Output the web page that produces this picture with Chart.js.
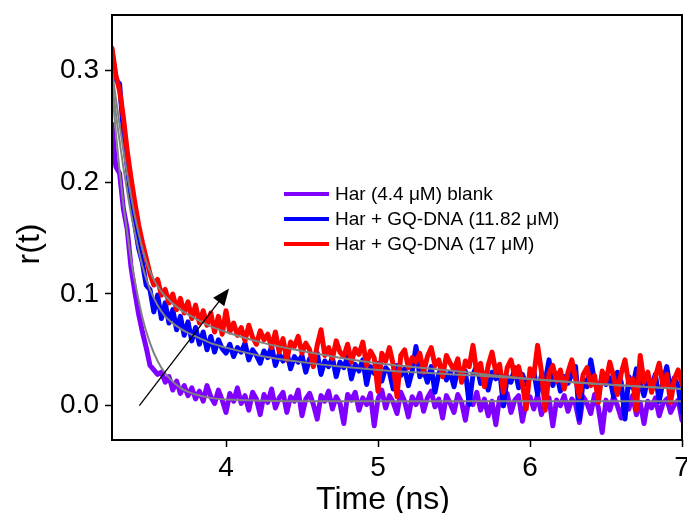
<!DOCTYPE html>
<html>
<head>
<meta charset="utf-8">
<script src="https://cdn.jsdelivr.net/npm/chart.js@4.4.1/dist/chart.umd.min.js"></script>
<style>
  html, body { margin: 0; padding: 0; background: #fff; }
  canvas { display: block; }
</style>
</head>
<body>
<canvas id="canvas-rt" width="687" height="513"></canvas>
<script>
// time axis (ns), one sample every 0.025 ns
const times = [
  3.25, 3.275, 3.3, 3.325, 3.35, 3.375, 3.4, 3.425, 3.45, 3.475,
  3.5, 3.525, 3.55, 3.575, 3.6, 3.625, 3.65, 3.675, 3.7, 3.725,
  3.75, 3.775, 3.8, 3.825, 3.85, 3.875, 3.9, 3.925, 3.95, 3.975,
  4.0, 4.025, 4.05, 4.075, 4.1, 4.125, 4.15, 4.175, 4.2, 4.225,
  4.25, 4.275, 4.3, 4.325, 4.35, 4.375, 4.4, 4.425, 4.45, 4.475,
  4.5, 4.525, 4.55, 4.575, 4.6, 4.625, 4.65, 4.675, 4.7, 4.725,
  4.75, 4.775, 4.8, 4.825, 4.85, 4.875, 4.9, 4.925, 4.95, 4.975,
  5.0, 5.025, 5.05, 5.075, 5.1, 5.125, 5.15, 5.175, 5.2, 5.225,
  5.25, 5.275, 5.3, 5.325, 5.35, 5.375, 5.4, 5.425, 5.45, 5.475,
  5.5, 5.525, 5.55, 5.575, 5.6, 5.625, 5.65, 5.675, 5.7, 5.725,
  5.75, 5.775, 5.8, 5.825, 5.85, 5.875, 5.9, 5.925, 5.95, 5.975,
  6.0, 6.025, 6.05, 6.075, 6.1, 6.125, 6.15, 6.175, 6.2, 6.225,
  6.25, 6.275, 6.3, 6.325, 6.35, 6.375, 6.4, 6.425, 6.45, 6.475,
  6.5, 6.525, 6.55, 6.575, 6.6, 6.625, 6.65, 6.675, 6.7, 6.725,
  6.75, 6.775, 6.8, 6.825, 6.85, 6.875, 6.9, 6.925, 6.95, 6.975,
  7.0
];

// Har (4.4 uM) blank
const blank = [
  0.252, 0.214, 0.208, 0.176, 0.158, 0.124, 0.102, 0.082, 0.066, 0.052,
  0.036, 0.032, 0.028, 0.030, 0.021, 0.026, 0.014, 0.022, 0.011, 0.018,
  0.009, 0.016, 0.006, 0.013, 0.004, 0.018, 0.008, 0.002, 0.014, 0.005,
  -0.006, 0.011, 0.004, 0.016, 0.002, 0.009, -0.004, 0.012, 0.006, -0.008,
  0.010, 0.003, 0.015, -0.002, 0.007, 0.012, -0.006, 0.008, 0.004, 0.014,
  -0.009, 0.006, 0.011, 0.001, -0.012, 0.009, 0.004, 0.013, -0.003, 0.008,
  0.002, -0.016, 0.010, 0.005, 0.012, -0.004, 0.007, 0.001, 0.011, -0.018,
  0.006, 0.014, -0.002, 0.009, 0.003, -0.007, 0.012, 0.004, -0.010, 0.008,
  0.001, 0.011, -0.005, 0.007, 0.013, -0.001, 0.006, -0.011, 0.009, 0.002,
  -0.006, 0.010, 0.003, -0.013, 0.008, 0.001, 0.012, -0.004, 0.006, -0.009,
  0.004, -0.017, 0.007, 0.000, 0.011, -0.006, 0.005, 0.009, -0.014, 0.003,
  0.008, -0.003, 0.010, -0.008, 0.002, 0.007, -0.018, 0.005, 0.000, 0.009,
  -0.005, 0.006, 0.001, -0.015, 0.008, 0.002, -0.007, 0.010, -0.002, -0.024,
  0.005, -0.004, 0.008, 0.000, -0.011, 0.006, -0.003, 0.009, -0.008, 0.003,
  -0.016, 0.004, -0.002, 0.007, -0.009, 0.002, 0.006, -0.006, 0.001, 0.005,
  -0.013
];

// Har + GQ-DNA (11.82 uM)
const dna1182 = [
  0.318, 0.292, 0.288, 0.245, 0.214, 0.186, 0.162, 0.141, 0.128, 0.108,
  0.104, 0.084, 0.099, 0.078, 0.092, 0.074, 0.086, 0.068, 0.080, 0.063,
  0.075, 0.058, 0.070, 0.055, 0.066, 0.050, 0.062, 0.048, 0.059, 0.051,
  0.047, 0.055, 0.044, 0.052, 0.048, 0.056, 0.041, 0.050, 0.045, 0.038,
  0.049, 0.043, 0.053, 0.036, 0.046, 0.040, 0.048, 0.033, 0.044, 0.039,
  0.045, 0.030, 0.042, 0.037, 0.047, 0.028, 0.040, 0.035, 0.043, 0.026,
  0.039, 0.034, 0.044, 0.024, 0.037, 0.031, 0.041, 0.019, 0.035, 0.029,
  0.038, 0.022, 0.034, 0.030, 0.015, 0.036, 0.027, 0.033, 0.018, 0.031,
  0.053, 0.026, 0.032, 0.021, 0.035, 0.012, 0.029, 0.034, 0.023, 0.030,
  0.017, 0.033, 0.025, 0.031, 0.001, 0.028, 0.036, 0.020, 0.027, 0.014,
  0.030, 0.024, 0.032, 0.000, 0.026, 0.021, 0.034, 0.016, 0.028, 0.019,
  0.025, 0.031, 0.010, 0.027, 0.022, 0.041, 0.018, 0.029, 0.013, 0.026,
  0.020, 0.028, 0.035, -0.012, 0.024, 0.017, 0.041, 0.022, 0.011, 0.027,
  0.019, 0.025, 0.008, 0.030, 0.021, -0.012, 0.026, 0.016, 0.033, 0.020,
  0.009, 0.024, 0.018, 0.028, 0.004, 0.022, 0.035, 0.013, 0.025, 0.017,
  -0.006
];

// Har + GQ-DNA (17 uM)
const dna17 = [
  0.320, 0.296, 0.282, 0.258, 0.228, 0.204, 0.182, 0.162, 0.146, 0.132,
  0.118, 0.108, 0.113, 0.099, 0.104, 0.092, 0.100, 0.086, 0.096, 0.083,
  0.093, 0.078, 0.090, 0.074, 0.085, 0.072, 0.083, 0.066, 0.080, 0.064,
  0.085, 0.066, 0.074, 0.063, 0.070, 0.058, 0.072, 0.061, 0.055, 0.067,
  0.059, 0.064, 0.052, 0.066, 0.048, 0.060, 0.041, 0.057, 0.053, 0.062,
  0.047, 0.056, 0.050, 0.035, 0.054, 0.068, 0.045, 0.052, 0.042, 0.058,
  0.048, 0.044, 0.055, 0.039, 0.051, 0.046, 0.057, 0.036, 0.049, 0.043,
  0.013, 0.047, 0.040, 0.052, 0.037, 0.008, 0.045, 0.050, 0.034, 0.043,
  0.039, 0.047, 0.030, 0.044, 0.052, 0.036, 0.041, 0.026, 0.045, 0.038,
  0.032, 0.042, 0.021, 0.040, 0.035, 0.054, 0.029, 0.038, 0.017, 0.036,
  0.048, 0.030, 0.037, 0.012, 0.034, 0.041, 0.026, 0.035, 0.020, -0.003,
  0.033, 0.027, 0.054, 0.031, -0.004, 0.029, 0.036, 0.022, 0.032, 0.015,
  0.030, 0.041, 0.024, 0.008, 0.028, 0.034, 0.018, 0.027, 0.003, 0.031,
  0.022, 0.039, 0.026, 0.010, 0.029, 0.041, 0.019, 0.024, -0.004, 0.045,
  0.021, 0.030, 0.012, 0.026, 0.038, 0.017, 0.028, 0.003, 0.024, 0.032,
  0.019
];

// fitted decays (grey)
const fitTimes = [3.25, 3.275, 3.3, 3.325, 3.35, 3.375, 3.4, 3.45, 3.5, 3.55, 3.6, 3.7, 3.8, 3.9, 4.0, 4.25, 4.5, 4.75, 5.0, 5.5, 6.0, 6.5, 7.0];
const fitBlank   = [0.285, 0.245, 0.210, 0.180, 0.155, 0.131, 0.112, 0.079, 0.056, 0.040, 0.029, 0.016, 0.010, 0.007, 0.0055, 0.0045, 0.004, 0.004, 0.004, 0.004, 0.004, 0.004, 0.004];
const fit1182    = [0.290, 0.262, 0.237, 0.213, 0.192, 0.172, 0.155, 0.125, 0.104, 0.090, 0.080, 0.069, 0.062, 0.056, 0.052, 0.044, 0.039, 0.035, 0.032, 0.028, 0.024, 0.019, 0.015];
const fit17      = [0.300, 0.275, 0.252, 0.229, 0.207, 0.188, 0.170, 0.141, 0.120, 0.107, 0.098, 0.086, 0.078, 0.071, 0.066, 0.056, 0.049, 0.043, 0.038, 0.031, 0.024, 0.019, 0.015];

const legendLabels = ['Har (4.4 \u03bcM) blank', 'Har + GQ-DNA (11.82 \u03bcM)', 'Har + GQ-DNA (17 \u03bcM)'];
const seriesColors = ['#8000ff', '#0000ff', '#ff0000'];
const xTicks = [4, 5, 6, 7];
const yTicks = [0.0, 0.1, 0.2, 0.3];
const arrowFrom = [3.43, 0.0];
const arrowTo = [4.02, 0.105];

const FONT = '"Liberation Sans", Arial, Helvetica, sans-serif';

const pts = (xs, ys) => xs.map((x, i) => ({x: x, y: ys[i]}));

const dataLine = (label, ys, color, order) => ({
  label: label,
  data: pts(times, ys),
  borderColor: color,
  backgroundColor: color,
  borderWidth: 5,
  borderJoinStyle: 'round',
  borderCapStyle: 'round',
  pointRadius: 0,
  tension: 0,
  order: order
});

const fitLine = (ys) => ({
  label: 'fit',
  data: pts(fitTimes, ys),
  borderColor: '#808080',
  borderWidth: 2,
  pointRadius: 0,
  cubicInterpolationMode: 'monotone',
  order: 0
});

// box round the plot, arrow, legend and axis titles
const extras = {
  id: 'extras',
  afterDatasetsDraw(chart) {
    const ctx = chart.ctx;
    const a = chart.chartArea;
    const sx = chart.scales.x, sy = chart.scales.y;
    ctx.save();

    // arrow
    const x1 = sx.getPixelForValue(arrowFrom[0]), y1 = sy.getPixelForValue(arrowFrom[1]);
    const x2 = sx.getPixelForValue(arrowTo[0]), y2 = sy.getPixelForValue(arrowTo[1]);
    const ang = Math.atan2(y2 - y1, x2 - x1);
    const hl = 17, hw = 7;
    const bx = x2 - hl * Math.cos(ang), by = y2 - hl * Math.sin(ang);
    ctx.strokeStyle = '#000';
    ctx.lineWidth = 1.3;
    ctx.beginPath(); ctx.moveTo(x1, y1); ctx.lineTo(bx, by); ctx.stroke();
    ctx.fillStyle = '#000';
    ctx.beginPath();
    ctx.moveTo(x2, y2);
    ctx.lineTo(bx + hw * Math.sin(ang), by - hw * Math.cos(ang));
    ctx.lineTo(bx - hw * Math.sin(ang), by + hw * Math.cos(ang));
    ctx.closePath(); ctx.fill();

    // legend
    ctx.font = '19px ' + FONT;
    ctx.textBaseline = 'middle';
    legendLabels.forEach((txt, i) => {
      const y = 194 + i * 25;
      ctx.strokeStyle = seriesColors[i];
      ctx.lineWidth = 4;
      ctx.beginPath(); ctx.moveTo(284, y); ctx.lineTo(329, y); ctx.stroke();
      ctx.fillStyle = '#000';
      ctx.fillText(txt, 335, y + 1);
    });

    // frame
    ctx.strokeStyle = '#000';
    ctx.lineWidth = 2;
    ctx.strokeRect(a.left, a.top, a.right - a.left, a.bottom - a.top);

    // axis titles
    ctx.font = '32px ' + FONT;
    ctx.textAlign = 'center';
    ctx.textBaseline = 'middle';
    ctx.fillText('Time (ns)', 383, 500);
    ctx.translate(30, 244);
    ctx.rotate(-Math.PI / 2);
    ctx.fillText('r(t)', 0, 0);
    ctx.restore();
  }
};

const ctx = document.getElementById('canvas-rt').getContext('2d');
const myChart = new Chart(ctx, {
  type: 'line',
  data: {
    datasets: [
      dataLine(legendLabels[0], blank, seriesColors[0], 3),
      dataLine(legendLabels[1], dna1182, seriesColors[1], 2),
      dataLine(legendLabels[2], dna17, seriesColors[2], 1),
      fitLine(fitBlank),
      fitLine(fit1182),
      fitLine(fit17)
    ]
  },
  options: {
    responsive: false,
    animation: false,
    devicePixelRatio: 1,
    layout: { padding: { top: 15, right: 5, left: 0, bottom: 0 } },
    plugins: { legend: { display: false }, tooltip: { enabled: false } },
    scales: {
      x: {
        type: 'linear',
        min: 3.25,
        max: 7.0,
        afterBuildTicks: s => { s.ticks = xTicks.map(v => ({value: v})); },
        afterFit: s => { s.height = 73; s.paddingLeft = 0; s.paddingRight = 0; },
        ticks: { color: '#000', font: { size: 28, family: FONT }, padding: 4, maxRotation: 0, autoSkip: false,
                 callback: v => String(v) },
        grid: { display: true, drawOnChartArea: false, tickLength: 7, tickWidth: 1.5, tickColor: '#000' },
        border: { display: false }
      },
      y: {
        type: 'linear',
        min: -0.0307,
        max: 0.3497,
        afterBuildTicks: s => { s.ticks = yTicks.map(v => ({value: v})); },
        afterFit: s => { s.width = 112; s.paddingTop = 0; s.paddingBottom = 0; },
        ticks: { color: '#000', font: { size: 28, family: FONT }, padding: 6,
                 callback: v => v.toFixed(1) },
        grid: { display: true, drawOnChartArea: false, tickLength: 7, tickWidth: 1.5, tickColor: '#000' },
        border: { display: false }
      }
    }
  },
  plugins: [extras]
});
</script>
</body>
</html>
